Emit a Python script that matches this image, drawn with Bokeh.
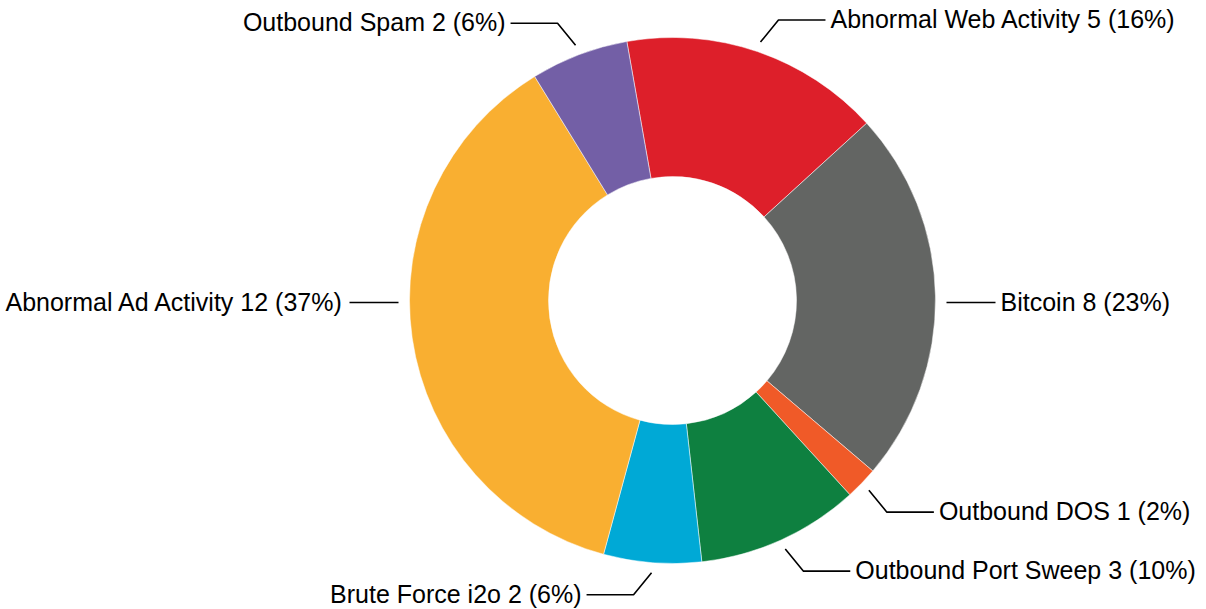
import numpy as np
from bokeh.plotting import figure
from bokeh.models import Range1d, ColumnDataSource
from bokeh.core.properties import value
from bokeh.embed import file_html
from bokeh.resources import INLINE

# ---- data ----
categories = ["Abnormal Web Activity", "Bitcoin", "Outbound DOS", "Outbound Port Sweep",
              "Brute Force i2o", "Abnormal Ad Activity", "Outbound Spam"]
counts = [5, 8, 1, 3, 2, 12, 2]
percents = [16, 23, 2, 10, 6, 37, 6]
colors = ["#DD1F2A", "#636563", "#F05A28", "#0E8040", "#00A9D6", "#F9AF31", "#735FA6"]

# ---- layout ----
W, H = 1206, 609
CX, CY = 672, 309          # donut centre (screen px inside the figure, y up)
RO, RI = 263, 124          # outer / inner radius
THETA0 = -10.0             # start angle, degrees clockwise from 12 o'clock

p = figure(width=W, height=H, x_range=Range1d(0, W), y_range=Range1d(0, H),
           output_backend="svg", toolbar_location=None, min_border=0,
           x_axis_type=None, y_axis_type=None)
p.outline_line_color = None
p.background_fill_color = "white"
p.border_fill_color = "white"

frac = np.array(percents, dtype=float) / sum(percents)
cum = THETA0 + np.concatenate([[0], np.cumsum(frac)]) * 360.0
ts, te = cum[:-1], cum[1:]
src = ColumnDataSource(dict(
    start=np.radians(90 - ts), end=np.radians(90 - te), color=colors,
    name=categories))
p.annular_wedge(x=CX, y=CY, inner_radius=RI, outer_radius=RO,
                start_angle="start", end_angle="end", direction="clock",
                fill_color="color", line_color="white", line_width=0.5, source=src)

# ---- leader lines & labels ----
xs, ys = [], []
lx, ly, lt = [], [], []
rx, ry, rt = [], [], []
for name, c, pc, a0, a1 in zip(categories, counts, percents, ts, te):
    mid = np.radians((a0 + a1) / 2)
    s, co = np.sin(mid), np.cos(mid)
    sx = 1 if s >= 0 else -1
    label = f"{name} {c} ({pc}%)"
    if abs(co) < 0.3:
        x0 = CX + sx * (RO + 11)
        x1 = CX + sx * (RO + 60)
        xs.append([x0, x1]); ys.append([CY - 2, CY - 2])
        ex, ey = x1, CY - 2
    else:
        x0 = CX + (RO + 10) * s
        y0 = CY + (RO + 10) * co
        sy = 1 if co >= 0 else -1
        x1, y1 = x0 + sx * 18, y0 + sy * 22
        x2 = x1 + sx * 47
        xs.append([x0, x1, x2]); ys.append([y0, y1, y1])
        ex, ey = x2, y1
    if sx > 0:
        rx.append(ex + 5); ry.append(ey + 1); rt.append(label)
    else:
        lx.append(ex - 5); ly.append(ey + 1); lt.append(label)

p.multi_line(xs=xs, ys=ys, line_color="#000000", line_width=1.6)

font = value("Liberation Sans")
p.text(x=rx, y=ry, text=rt, text_font=font, text_font_size="25px",
       text_align="left", text_baseline="middle", text_color="#000000")
p.text(x=lx, y=ly, text=lt, text_font=font, text_font_size="25px",
       text_align="right", text_baseline="middle", text_color="#000000")

open("out.html", "w").write(file_html(p, INLINE))
